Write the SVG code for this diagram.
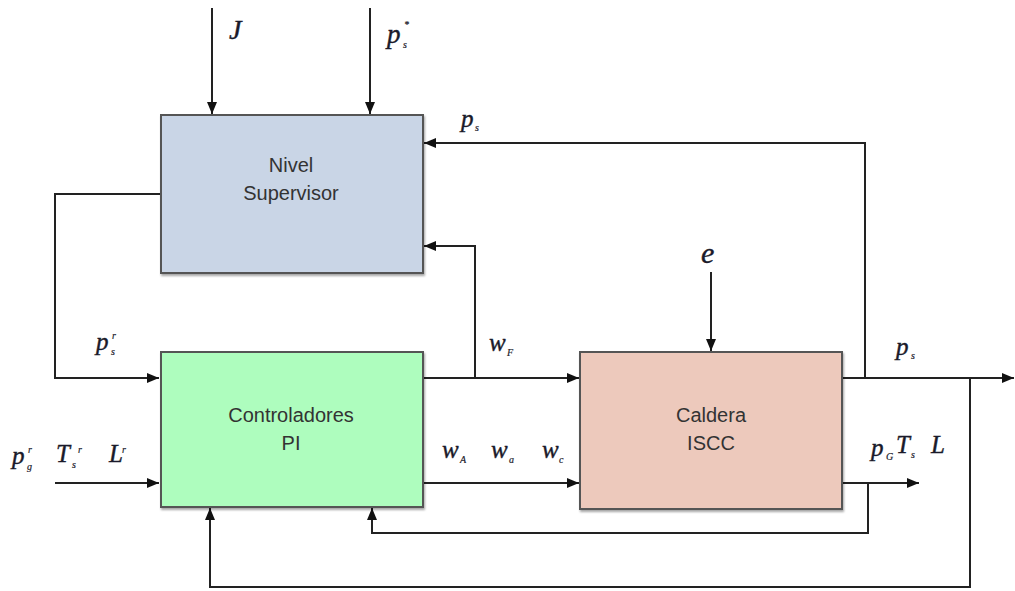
<svg xmlns="http://www.w3.org/2000/svg" width="1015" height="591" viewBox="0 0 1015 591">
<style>
.box{stroke:#555;stroke-width:2}
.bt{font-family:"Liberation Sans",Arial,sans-serif;font-size:20px;fill:#333;text-anchor:middle}
.ln{fill:none;stroke:#222;stroke-width:2}
.m{font-family:"Liberation Serif","Times New Roman",serif;font-style:italic;fill:#1a1a2a;stroke:#1a1a2a;stroke-width:0.4}
.b{font-size:25px}
.s{font-size:10px;stroke-width:0.2}
</style>
<defs>
<marker id="ah" markerWidth="12" markerHeight="10" refX="12" refY="5" orient="auto" markerUnits="userSpaceOnUse">
<path d="M0,0 L12,5 L0,10 Z" fill="#111"/>
</marker>
<filter id="sh" x="-5%" y="-5%" width="110%" height="110%">
<feDropShadow dx="1" dy="2" stdDeviation="1" flood-color="#000" flood-opacity="0.35"/>
</filter>
</defs>
<rect width="1015" height="591" fill="#fff"/>

<g id="connectors">
<line class="ln" x1="212" y1="8" x2="212" y2="114" marker-end="url(#ah)"/>
<line class="ln" x1="370" y1="8" x2="370" y2="114" marker-end="url(#ah)"/>
<polyline class="ln" points="865,378 865,143 424,143" marker-end="url(#ah)"/>
<polyline class="ln" points="475,378 475,246 424,246" marker-end="url(#ah)"/>
<polyline class="ln" points="160,194 55,194 55,378 159,378" marker-end="url(#ah)"/>
<line class="ln" x1="55" y1="483" x2="159" y2="483" marker-end="url(#ah)"/>
<line class="ln" x1="423" y1="378" x2="579" y2="378" marker-end="url(#ah)"/>
<line class="ln" x1="423" y1="483" x2="579" y2="483" marker-end="url(#ah)"/>
<line class="ln" x1="711" y1="272" x2="711" y2="351" marker-end="url(#ah)"/>
<line class="ln" x1="842" y1="378" x2="1014" y2="378" marker-end="url(#ah)"/>
<line class="ln" x1="842" y1="483" x2="919" y2="483" marker-end="url(#ah)"/>
<polyline class="ln" points="868,483 868,533 372,533 372,508" marker-end="url(#ah)"/>
<polyline class="ln" points="970,378 970,587 210,587 210,508" marker-end="url(#ah)"/>
</g>

<g id="nivel-supervisor">
<rect class="box" x="161" y="115" width="262" height="158" fill="#C9D5E6" filter="url(#sh)"/>
<text class="bt" x="291" y="172">Nivel</text>
<text class="bt" x="291" y="200">Supervisor</text>
</g>

<g id="controladores-pi">
<rect class="box" x="161" y="352" width="262" height="155" fill="#AEFDBE" filter="url(#sh)"/>
<text class="bt" x="291" y="422">Controladores</text>
<text class="bt" x="291" y="450">PI</text>
</g>

<g id="caldera-iscc">
<rect class="box" x="580" y="352" width="262" height="157" fill="#EDC9BC" filter="url(#sh)"/>
<text class="bt" x="711" y="422">Caldera</text>
<text class="bt" x="711" y="450">ISCC</text>
</g>

<g id="labels">
<text class="m" x="229" y="39" style="font-size:28px">J</text>
<text class="m b" x="387" y="43" style="font-size:27px">p</text>
<text class="m s" x="403" y="48">s</text>
<text class="m s" x="404" y="28">*</text>

<text class="m b" x="461" y="127">p</text>
<text class="m s" x="475" y="131">s</text>

<text class="m b" x="489" y="351">w</text>
<text class="m s" x="507" y="356">F</text>

<text class="m b" x="96" y="350">p</text>
<text class="m s" x="111" y="355">s</text>
<text class="m s" x="112" y="339">r</text>

<text class="m b" x="12" y="464">p</text>
<text class="m s" x="27" y="470">g</text>
<text class="m s" x="28" y="453">r</text>
<text class="m b" x="56" y="462">T</text>
<text class="m s" x="72" y="468">s</text>
<text class="m s" x="78" y="453">r</text>
<text class="m b" x="109" y="462">L</text>
<text class="m s" x="122" y="453">r</text>

<text class="m b" x="442" y="458">w</text>
<text class="m s" x="460" y="463">A</text>
<text class="m b" x="491" y="458">w</text>
<text class="m s" x="509" y="463">a</text>
<text class="m b" x="542" y="458">w</text>
<text class="m s" x="559" y="463">c</text>

<text class="m" x="701" y="263" style="font-size:30px">e</text>

<text class="m b" x="896" y="355">p</text>
<text class="m s" x="911" y="359">s</text>

<text class="m b" x="871" y="456">p</text>
<text class="m s" x="886" y="460">G</text>
<text class="m b" x="896" y="453">T</text>
<text class="m s" x="911" y="458">s</text>
<text class="m b" x="931" y="453">L</text>
</g>
</svg>
